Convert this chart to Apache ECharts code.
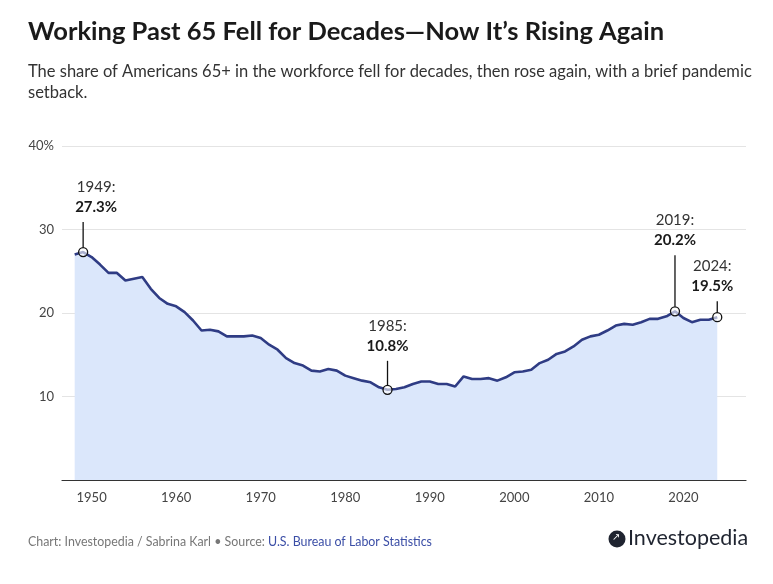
<!DOCTYPE html>
<html>
<head>
<meta charset="utf-8">
<script src="https://cdn.jsdelivr.net/npm/echarts@6/dist/echarts.min.js"></script>
<style>
  html, body { margin: 0; padding: 0; background: #fff; }
  #chart { width: 773px; height: 584px; }
</style>
</head>
<body>
<div id="chart"></div>
<script>
// share of Americans 65+ in the labor force, annual
var years = [1948, 1949, 1950, 1951, 1952, 1953, 1954, 1955, 1956, 1957, 1958, 1959,
  1960, 1961, 1962, 1963, 1964, 1965, 1966, 1967, 1968, 1969,
  1970, 1971, 1972, 1973, 1974, 1975, 1976, 1977, 1978, 1979,
  1980, 1981, 1982, 1983, 1984, 1985, 1986, 1987, 1988, 1989,
  1990, 1991, 1992, 1993, 1994, 1995, 1996, 1997, 1998, 1999,
  2000, 2001, 2002, 2003, 2004, 2005, 2006, 2007, 2008, 2009,
  2010, 2011, 2012, 2013, 2014, 2015, 2016, 2017, 2018, 2019,
  2020, 2021, 2022, 2023, 2024];
var shares = [27.0, 27.3, 26.7, 25.8, 24.8, 24.8, 23.9, 24.1, 24.3, 22.9, 21.8, 21.1,
  20.8, 20.1, 19.1, 17.9, 18.0, 17.8, 17.2, 17.2, 17.2, 17.3,
  17.0, 16.2, 15.6, 14.6, 14.0, 13.7, 13.1, 13.0, 13.3, 13.1,
  12.5, 12.2, 11.9, 11.7, 11.1, 10.8, 10.9, 11.1, 11.5, 11.8,
  11.8, 11.5, 11.5, 11.2, 12.4, 12.1, 12.1, 12.2, 11.9, 12.3,
  12.9, 13.0, 13.2, 14.0, 14.4, 15.1, 15.4, 16.0, 16.8, 17.2,
  17.4, 17.9, 18.5, 18.7, 18.6, 18.9, 19.3, 19.3, 19.6, 20.2,
  19.4, 18.9, 19.2, 19.2, 19.5];

// highlighted points
var noteYears = [1949, 1985, 2019, 2024];
var noteValues = [27.3, 10.8, 20.2, 19.5];

var yTicks = [10, 20, 30, 40];
var xTicks = [1950, 1960, 1970, 1980, 1990, 2000, 2010, 2020];

var FONT = 'Lato';
var lineColor = '#2f3c84';

var lineData = [];
for (var i = 0; i < years.length; i++) {
  lineData.push([years[i], shares[i]]);
}
var noteData = [];
for (var j = 0; j < noteYears.length; j++) {
  noteData.push([noteYears[j], noteValues[j]]);
}

// leader length (px) and label x-shift (px) per note
var leader = [30, 29, 56, 16];
var shiftX = [13, 0, 0, -5];

var chart = echarts.init(document.getElementById('chart'));

var option = {
  animation: false,
  grid: { left: 62, right: 27, top: 146, bottom: 104 },
  xAxis: {
    type: 'value',
    min: 1946.5,
    max: 2027.4,
    splitLine: { show: false },
    axisLine: { show: true, lineStyle: { color: '#333', width: 1.2 } },
    axisTick: { show: false },
    axisLabel: {
      customValues: xTicks,
      color: '#444',
      fontFamily: FONT,
      fontSize: 13,
      margin: 11,
      formatter: function (v) { return String(v); }
    }
  },
  yAxis: {
    type: 'value',
    min: 0,
    max: 40,
    interval: 10,
    axisLine: { show: false },
    axisTick: { show: false },
    splitLine: {
      show: true,
      lineStyle: { color: '#e4e4e4', width: 1 }
    },
    axisLabel: {
      customValues: yTicks,
      color: '#444',
      fontFamily: FONT,
      fontSize: 13,
      margin: 8,
      formatter: function (v) { return v === 40 ? v + '%' : String(v); }
    }
  },
  series: [
    {
      type: 'line',
      data: lineData,
      symbol: 'none',
      lineStyle: { color: lineColor, width: 2.6 },
      areaStyle: { color: '#dbe7fb', opacity: 1 },
      z: 2
    },
    {
      type: 'custom',
      data: noteData,
      z: 5,
      renderItem: function (params, api) {
        var idx = params.dataIndex;
        var p = api.coord([api.value(0), api.value(1)]);
        var len = leader[idx];
        var cx = p[0] + shiftX[idx];
        return {
          type: 'group',
          children: [
            {
              type: 'line',
              shape: { x1: p[0], y1: p[1] - 4.5, x2: p[0], y2: p[1] - len },
              style: { stroke: '#111', lineWidth: 1.3 }
            },
            {
              type: 'circle',
              shape: { cx: p[0], cy: p[1], r: 4.5 },
              style: { fill: 'rgba(255,255,255,0.6)', stroke: '#111', lineWidth: 1.3 }
            },
            {
              type: 'text',
              x: cx,
              y: p[1] - len - 5,
              style: {
                text: '{y|' + api.value(0) + ':}\n{v|' + api.value(1).toFixed(1) + '%}',
                align: 'center',
                verticalAlign: 'bottom',
                rich: {
                  y: { fontFamily: FONT, fontSize: 15, fill: '#333', lineHeight: 20, align: 'center' },
                  v: { fontFamily: FONT, fontSize: 15, fontWeight: 'bold', fill: '#1a1a1a', lineHeight: 20, align: 'center' }
                }
              }
            }
          ]
        };
      }
    }
  ],
  graphic: [
    {
      type: 'text', left: 28, top: 19,
      style: {
        text: 'Working Past 65 Fell for Decades\u2014Now It\u2019s Rising Again',
        fontFamily: FONT, fontSize: 25.5, fontWeight: 'bold', fill: '#1a1a1a'
      }
    },
    {
      type: 'text', left: 28, top: 61,
      style: {
        text: 'The share of Americans 65+ in the workforce fell for decades, then rose again, with a brief pandemic\nsetback.',
        fontFamily: FONT, fontSize: 16.5, fill: '#333', lineHeight: 21
      }
    },
    {
      type: 'text', left: 28, top: 536,
      style: {
        text: '{g|Chart: Investopedia / Sabrina Karl \u2022 Source: }{b|U.S. Bureau of Labor Statistics}',
        rich: {
          g: { fontFamily: FONT, fontSize: 12.4, fill: '#777' },
          b: { fontFamily: FONT, fontSize: 12.4, fill: '#3b4ea6' }
        }
      }
    },
    {
      type: 'circle', shape: { cx: 617, cy: 539, r: 8.5 },
      style: { fill: '#1f2430' }
    },
    {
      type: 'text', left: 612, top: 532,
      style: { text: '\u2197', fontFamily: 'DejaVu Sans', fontSize: 10, fill: '#fff' }
    },
    {
      type: 'text', left: 628, top: 527,
      style: { text: 'Investopedia', fontFamily: FONT, fontSize: 21.5, fill: '#1f2430' }
    }
  ]
};

chart.setOption(option);
</script>
</body>
</html>
